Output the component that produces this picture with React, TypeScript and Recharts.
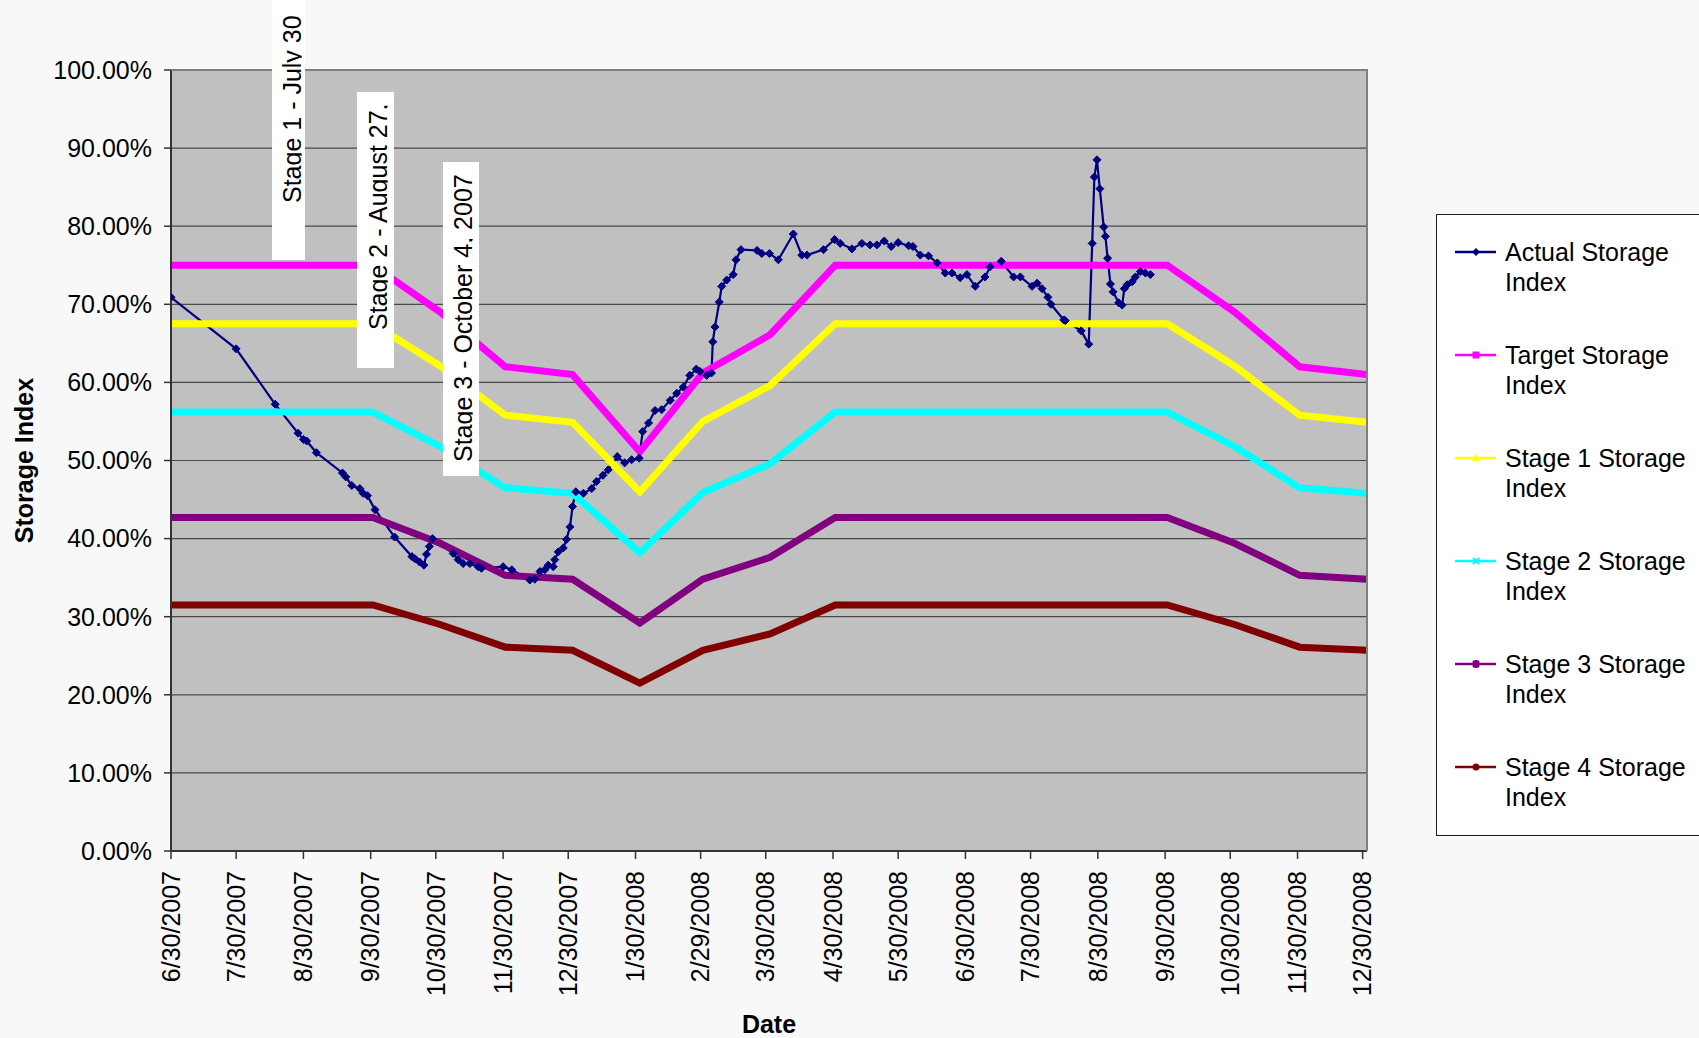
import { CartesianGrid, Line, LineChart, XAxis, YAxis } from "recharts";

const FONT = "'Liberation Sans', Arial, Helvetica, sans-serif";
const W = 1699;
const H = 1038;
const PLOT = { left: 171, top: 70, right: 1367, bottom: 851 };

// x values are days after 6/30/2007
const tickDays = [0, 30, 61, 92, 122, 153, 183, 214, 244, 274, 305, 335, 366, 396, 427, 458, 488, 519, 549];
const tickLabels = [
  "6/30/2007", "7/30/2007", "8/30/2007", "9/30/2007", "10/30/2007", "11/30/2007",
  "12/30/2007", "1/30/2008", "2/29/2008", "3/30/2008", "4/30/2008", "5/30/2008",
  "6/30/2008", "7/30/2008", "8/30/2008", "9/30/2008", "10/30/2008", "11/30/2008", "12/30/2008",
];
const yTicks = [0, 10, 20, 30, 40, 50, 60, 70, 80, 90, 100];

const stageDays = [0, 32, 63, 93, 124, 154, 185, 216, 245, 276, 306, 337, 367, 398, 429, 459, 490, 520, 551];
const targetIndex = [75, 75, 75, 75, 69, 62, 61, 51.1, 61.2, 66.1, 75, 75, 75, 75, 75, 75, 69, 62, 61];
const stage1Index = [67.5, 67.5, 67.5, 67.5, 62.1, 55.8, 54.9, 46, 55, 59.6, 67.5, 67.5, 67.5, 67.5, 67.5, 67.5, 62.1, 55.8, 54.9];
const stage2Index = [56.2, 56.2, 56.2, 56.2, 51.8, 46.5, 45.8, 38.2, 45.9, 49.6, 56.2, 56.2, 56.2, 56.2, 56.2, 56.2, 51.8, 46.5, 45.8];
const stage3Index = [42.7, 42.7, 42.7, 42.7, 39.4, 35.3, 34.8, 29.2, 34.8, 37.6, 42.7, 42.7, 42.7, 42.7, 42.7, 42.7, 39.4, 35.3, 34.8];
const stage4Index = [31.5, 31.5, 31.5, 31.5, 29, 26.1, 25.7, 21.5, 25.7, 27.8, 31.5, 31.5, 31.5, 31.5, 31.5, 31.5, 29, 26.1, 25.7];

const actualDays = [
  0, 30, 48, 58.5, 61, 62.5, 67, 79, 80.5, 83.3,
  87, 88.5, 90.5, 94, 103, 111, 112.5, 114.5, 116.5, 117.7,
  119, 120.5, 130, 132.3, 134.6, 137.7, 141.5, 143, 153, 157,
  165.3, 167.6, 170, 172.2, 173.8, 176.1, 176.8, 178.4, 180.7, 182.2,
  183.8, 185, 186.5, 190, 193.8, 196, 199, 201.4, 205.6, 209,
  212.2, 215.7, 217.3, 220, 223, 226, 230, 233, 236, 239,
  242, 243.7, 246.8, 249, 249.6, 250.6, 252.6, 253.7, 256, 259,
  260.3, 262.6, 270, 272.2, 275.7, 279.8, 286.7, 290.6, 293, 300.6,
  305.7, 308.3, 313.7, 318.3, 322, 325.2, 328.6, 331.8, 335, 339.8,
  341.8, 345.2, 349, 353, 356.7, 359.8, 363.6, 366.7, 370.5, 375,
  377.4, 382.5, 388.2, 391.3, 396.7, 399, 401.3, 404, 405.4, 411.3,
  412, 419.3, 422.8, 424.4, 425.4, 426.6, 427.9, 429.7, 430.5, 431.5,
  432.8, 434, 436.6, 438.2, 439.2, 440.5, 442.8, 444.3, 446.6, 448.9,
  451.2,
];
const actualIndex = [
  70.9, 64.3, 57.2, 53.5, 52.7, 52.5, 51.0, 48.4, 47.9, 46.8,
  46.4, 45.8, 45.5, 43.7, 40.2, 37.7, 37.4, 37.0, 36.6, 38.0,
  39.0, 40.0, 38.1, 37.3, 36.8, 36.8, 36.4, 36.2, 36.4, 36.0,
  34.7, 34.8, 35.8, 36.0, 36.6, 36.4, 37.3, 38.3, 38.8, 39.9,
  41.5, 44.1, 46.0, 45.8, 46.4, 47.3, 48.1, 48.8, 50.5, 49.7,
  50.1, 50.3, 53.7, 54.8, 56.4, 56.5, 57.7, 58.6, 59.4, 60.9,
  61.7, 61.4, 60.9, 61.2, 65.2, 67.1, 70.3, 72.3, 73.1, 73.8,
  75.7, 77.0, 76.9, 76.5, 76.5, 75.7, 79.0, 76.3, 76.3, 77.0,
  78.3, 77.8, 77.1, 77.8, 77.6, 77.6, 78.1, 77.4, 77.9, 77.5,
  77.4, 76.3, 76.2, 75.3, 74.0, 74.0, 73.4, 73.8, 72.3, 73.5,
  74.8, 75.5, 73.5, 73.5, 72.3, 72.7, 72.0, 70.9, 70.0, 68.0,
  67.9, 66.6, 64.9, 77.8, 86.3, 88.5, 84.8, 79.9, 78.7, 75.9,
  72.6, 71.6, 70.2, 69.9, 72.0, 72.5, 72.9, 73.5, 74.2, 74.0,
  73.8,
];

const stageData = stageDays.map((day, i) => ({
  day,
  target: targetIndex[i],
  stage1: stage1Index[i],
  stage2: stage2Index[i],
  stage3: stage3Index[i],
  stage4: stage4Index[i],
}));
const actualData = actualDays.map((day, i) => ({ day, actual: actualIndex[i] }));

const stageSeries = [
  { key: "target", color: "#ff00ff" },
  { key: "stage1", color: "#ffff00" },
  { key: "stage2", color: "#00ffff" },
  { key: "stage3", color: "#800080" },
  { key: "stage4", color: "#800000" },
];

const legendItems = [
  { lines: ["Actual Storage", "Index"], color: "#000080", marker: "diamond" },
  { lines: ["Target Storage", "Index"], color: "#ff00ff", marker: "square" },
  { lines: ["Stage 1 Storage", "Index"], color: "#ffff00", marker: "triangle" },
  { lines: ["Stage 2 Storage", "Index"], color: "#00ffff", marker: "x" },
  { lines: ["Stage 3 Storage", "Index"], color: "#800080", marker: "star" },
  { lines: ["Stage 4 Storage", "Index"], color: "#800000", marker: "circle" },
];

// free-floating text boxes from the original sheet (descenders get cut by the box)
const notes = [
  { text: "Stage 1 - July 30", x: 272, y: 0, h: 260, base: 300.5, start: 203 },
  { text: "Stage 2 - August 27,", x: 357, y: 92, h: 276, base: 386.5, start: 330 },
  { text: "Stage 3 - October 4, 2007", x: 443, y: 162, h: 314, base: 471.5, start: 462 },
];
const noteWidths = [33, 37, 36];

function DateTick(props: any) {
  const { x, y, payload } = props;
  const label = tickLabels[tickDays.indexOf(payload.value)];
  return (
    <text
      x={x}
      y={y}
      dy="0.35em"
      transform={`rotate(-90 ${x} ${y})`}
      textAnchor="end"
      fontFamily={FONT}
      fontSize={25}
      fill="#000"
    >
      {label}
    </text>
  );
}

function Diamond(props: any) {
  const { cx, cy, index } = props;
  if (cx == null || cy == null) return <g key={`dm-${index}`} />;
  return (
    <path
      key={`dm-${index}`}
      d={`M${cx},${cy - 4}L${cx + 4},${cy}L${cx},${cy + 4}L${cx - 4},${cy}Z`}
      fill="#000080"
      stroke="#000080"
      strokeWidth={1}
    />
  );
}

function LegendMarker({ kind, color, x, y }: { kind: string; color: string; x: number; y: number }) {
  if (kind === "diamond")
    return <path d={`M${x},${y - 4}L${x + 4},${y}L${x},${y + 4}L${x - 4},${y}Z`} fill={color} />;
  if (kind === "square") return <rect x={x - 3.5} y={y - 3.5} width={7} height={7} fill={color} />;
  if (kind === "triangle")
    return <path d={`M${x},${y - 4}L${x + 4},${y + 3}L${x - 4},${y + 3}Z`} fill={color} />;
  if (kind === "x")
    return (
      <path d={`M${x - 3},${y - 3}L${x + 3},${y + 3}M${x + 3},${y - 3}L${x - 3},${y + 3}`} stroke={color} strokeWidth={2} />
    );
  if (kind === "star")
    return (
      <path
        d={`M${x - 3},${y - 3}L${x + 3},${y + 3}M${x + 3},${y - 3}L${x - 3},${y + 3}M${x},${y - 4}L${x},${y + 4}`}
        stroke={color}
        strokeWidth={2.5}
      />
    );
  return <circle cx={x} cy={y} r={3.5} fill={color} />;
}

function Overlay() {
  return (
    <svg width={W} height={H} style={{ position: "absolute", left: 0, top: 0, pointerEvents: "none" }}>
      <defs>
        {notes.map((n, i) => (
          <clipPath id={`note-clip-${i}`} key={i}>
            <rect x={n.x} y={n.y} width={n.base + 1.2 - n.x} height={n.h} />
          </clipPath>
        ))}
      </defs>
      <polyline
        points={`${PLOT.left},${PLOT.top} ${PLOT.right},${PLOT.top} ${PLOT.right},${PLOT.bottom}`}
        fill="none"
        stroke="#808080"
        strokeWidth={2}
      />
      {notes.map((n, i) => (
        <g key={n.text}>
          <rect x={n.x} y={n.y} width={noteWidths[i]} height={n.h} fill="#fff" />
          <g clipPath={`url(#note-clip-${i})`}>
            <text
              transform={`translate(${n.base} ${n.start}) rotate(-90)`}
              fontFamily={FONT}
              fontSize={25}
              fill="#000"
            >
              {n.text}
            </text>
          </g>
        </g>
      ))}
      <rect x={1436.5} y={214.5} width={400} height={621} fill="#fff" stroke="#1a1a1a" strokeWidth={1} />
      {legendItems.map((item, i) => {
        const cy = 252 + i * 103;
        return (
          <g key={item.lines[0]}>
            <line x1={1455} x2={1496} y1={cy} y2={cy} stroke={item.color} strokeWidth={2.5} />
            <LegendMarker kind={item.marker} color={item.color} x={1476} y={cy} />
            <text x={1505} y={cy + 9} fontFamily={FONT} fontSize={25} fill="#000">
              {item.lines[0]}
            </text>
            <text x={1505} y={cy + 39} fontFamily={FONT} fontSize={25} fill="#000">
              {item.lines[1]}
            </text>
          </g>
        );
      })}
    </svg>
  );
}

export default function App() {
  const yAxisWidth = 100;
  const xAxisHeight = H - PLOT.bottom;
  return (
    <div
      style={{
        position: "absolute",
        left: 0,
        top: 0,
        width: W,
        height: H,
        overflow: "hidden",
        background: "#f8f8f8",
        fontFamily: FONT,
      }}
    >
      <LineChart
        width={W}
        height={H}
        margin={{ top: PLOT.top, right: W - PLOT.right, bottom: 0, left: PLOT.left - yAxisWidth }}
      >
        <CartesianGrid vertical={false} stroke="#4a4a4a" strokeWidth={1.2} fill="#c0c0c0" fillOpacity={1} />
        <XAxis
          dataKey="day"
          type="number"
          domain={[0, 551]}
          ticks={tickDays}
          interval={0}
          height={xAxisHeight}
          tickSize={8}
          tickMargin={12}
          tick={<DateTick />}
          axisLine={{ stroke: "#333", strokeWidth: 2 }}
          tickLine={{ stroke: "#333", strokeWidth: 1.5 }}
          allowDataOverflow
          label={{
            value: "Date",
            position: "insideBottom",
            offset: 5,
            style: { fontFamily: FONT, fontSize: 25, fontWeight: "bold", fill: "#000" },
          }}
        />
        <YAxis
          type="number"
          domain={[0, 100]}
          ticks={yTicks}
          interval={0}
          width={yAxisWidth}
          tickSize={7}
          tickMargin={12}
          tickFormatter={(v) => `${Number(v).toFixed(2)}%`}
          tick={{ fontFamily: FONT, fontSize: 25, fill: "#000" }}
          axisLine={{ stroke: "#333", strokeWidth: 2 }}
          tickLine={{ stroke: "#333", strokeWidth: 1.5 }}
          label={{
            value: "Storage Index",
            angle: -90,
            position: "insideLeft",
            offset: -47,
            style: { textAnchor: "middle", fontFamily: FONT, fontSize: 25, fontWeight: "bold", fill: "#000" },
          }}
        />
        <Line
          data={actualData}
          dataKey="actual"
          name="Actual Storage Index"
          type="linear"
          stroke="#000080"
          strokeWidth={2.2}
          dot={Diamond}
          activeDot={false}
          isAnimationActive={false}
        />
        {stageSeries.map((s) => (
          <Line
            key={s.key}
            data={stageData}
            dataKey={s.key}
            type="linear"
            stroke={s.color}
            strokeWidth={7}
            dot={false}
            activeDot={false}
            isAnimationActive={false}
          />
        ))}
      </LineChart>
      <Overlay />
    </div>
  );
}
